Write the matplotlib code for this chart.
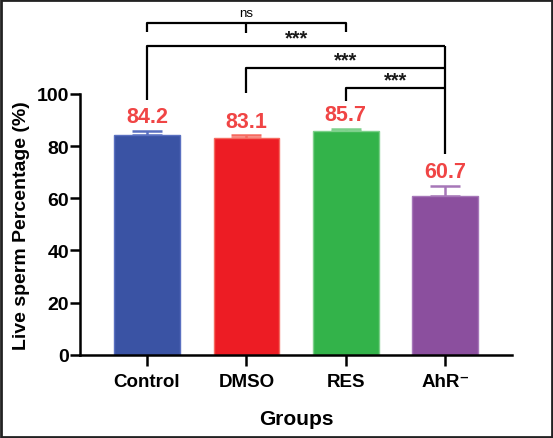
#!/usr/bin/env python3
"""Live sperm percentage per group, GraphPad-style bar chart with significance brackets."""

import matplotlib
matplotlib.use("Agg")
import matplotlib.pyplot as plt
from matplotlib.patches import Rectangle

plt.rcParams["font.family"] = ["Liberation Sans", "DejaVu Sans"]
plt.rcParams["font.weight"] = "bold"

groups = ["Control", "DMSO", "RES", "AhR\u207b"]
means = [84.2, 83.1, 85.7, 60.7]
errors = [1.5, 1.0, 0.9, 4.0]
colors = ["#3a53a4", "#ed1c24", "#33b34a", "#8b4f9e"]
edge_colors = ["#5a70c0", "#f56a60", "#7cd08a", "#a677b8"]

# significance comparisons: (left group, right group, label)
comparisons = [(0, 3, "***"), (1, 3, "***"), (2, 3, "***")]

fig = plt.figure(figsize=(5.53, 4.39), dpi=100)
ax = fig.add_axes([0.1447, 0.1897, 0.781, 0.594])

x = list(range(len(groups)))
ax.bar(x, means, width=0.66, color=colors, edgecolor=edge_colors, linewidth=1.0, zorder=2)
for xi, m, e, ec in zip(x, means, errors, edge_colors):
    ax.errorbar([xi], [m], yerr=[[0], [e]], fmt="none",
                ecolor=ec, elinewidth=1.8, capsize=11, capthick=1.8, zorder=1)

for xi, m, e in zip(x, means, errors):
    ax.text(xi, m + e + 3.4, f"{m:.1f}", ha="center", va="baseline",
            color="#f04545", fontsize=15.5, fontweight="bold")

ax.set_xlim(-0.673, 3.67)
ax.set_ylim(0, 100)
ax.set_yticks([0, 20, 40, 60, 80, 100])
ax.set_xticks(x)
ax.set_xticklabels(groups)
ax.tick_params(axis="y", direction="out", length=7, width=1.8, labelsize=14, pad=1)
ax.tick_params(axis="x", direction="out", length=8, width=1.8, labelsize=13.5, pad=5)
for lab in ax.get_xticklabels() + ax.get_yticklabels():
    lab.set_fontweight("bold")

for side in ["top", "right"]:
    ax.spines[side].set_visible(False)
for side in ["left", "bottom"]:
    ax.spines[side].set_linewidth(1.8)

ax.set_ylabel("Live sperm Percentage (%)", fontsize=14, fontweight="bold", labelpad=5)
ax.set_xlabel("Groups", fontsize=15, fontweight="bold", labelpad=14)

# brackets (data coords above the plot, drawn without clipping)
lw = 1.6
kw = dict(color="black", lw=lw, clip_on=False, solid_capstyle="butt")

# ns bracket spanning Control..RES with middle tick at DMSO
ax.plot([0, 0, 2, 2], [123.8, 127.2, 127.2, 123.8], **kw)
ax.plot([1, 1], [127.2, 123.4], **kw)
ax.text(1, 131.0, "ns", ha="center", va="center", fontsize=9.5, fontweight="normal")

bracket_y = [118.3, 110.0, 102.2]
left_foot = [97.7, 100.3, 97.4]
star_y = [119.4, 111.1, 103.1]
for (g0, g1, lab), by, lf, sy in zip(comparisons, bracket_y, left_foot, star_y):
    ax.plot([g0, g0, g1], [lf, by, by], **kw)
    ax.text((g0 + g1) / 2, sy, lab, ha="center", va="baseline", fontsize=14.5,
            fontweight="bold", color="#1a1a1a")
# shared right leg down to the AhR bar
ax.plot([3, 3], [bracket_y[0], 76.9], **kw)

# dark frame around the whole figure
fig.patches.append(Rectangle((0.002, 0.002), 0.996, 0.996, transform=fig.transFigure,
                             fill=False, edgecolor="#222222", linewidth=2.0))

fig.savefig("out.png", dpi=100)
